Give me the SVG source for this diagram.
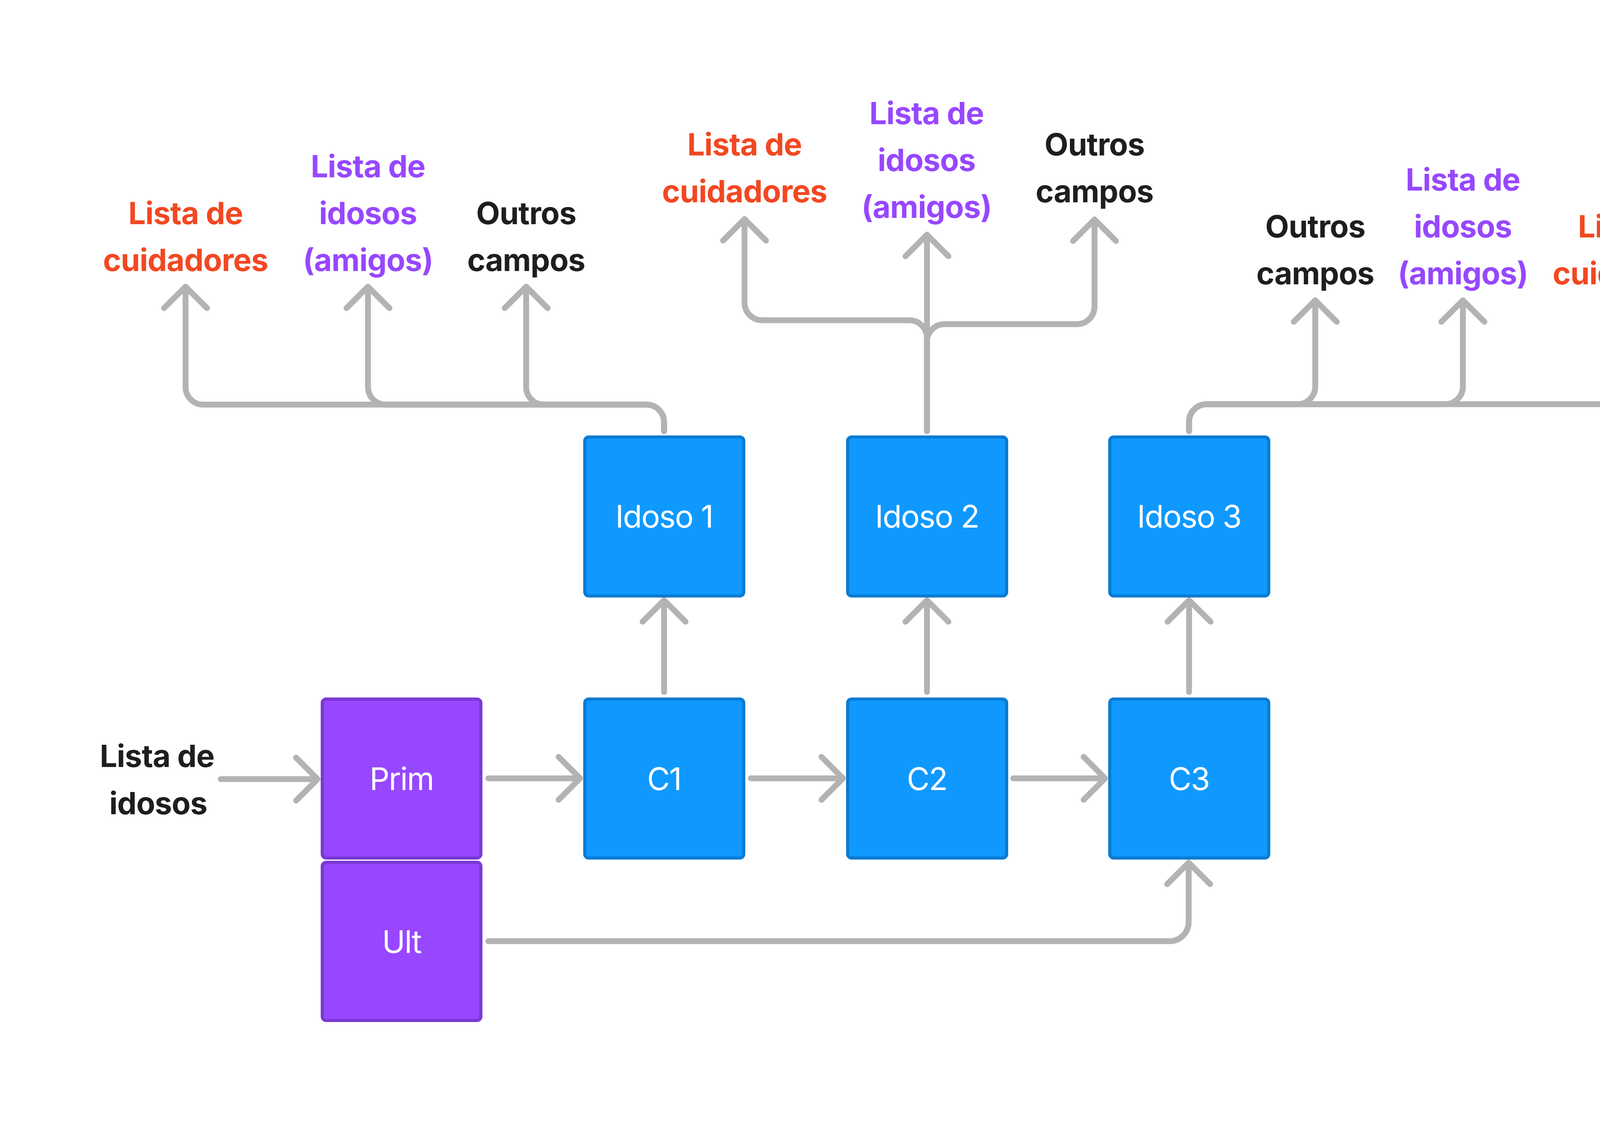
<svg xmlns="http://www.w3.org/2000/svg" width="4657" height="2873" viewBox="0 0 4657 2873">
<style>
.box-b{fill:#0F99FF;stroke:#0A7BD2;stroke-width:8}
.box-p{fill:#9747FF;stroke:#7B38D4;stroke-width:8}
.bt{font-family:Inter,"Liberation Sans",sans-serif;font-size:80px;letter-spacing:-2px;fill:#FFFFFF;text-anchor:middle}
.lb{font-family:Inter,"Liberation Sans",sans-serif;font-size:79px;letter-spacing:-1px;font-weight:700;text-anchor:middle}
.red{fill:#F24822}
.pur{fill:#9747FF}
.blk{fill:#1E1E1E}
.c{fill:none;stroke:#B3B3B3;stroke-width:15;stroke-linecap:round;stroke-linejoin:round}
</style>
<rect width="4657" height="2873" fill="#FFFFFF"/>
<g id="connectors" class="c">
<path d="M565 1995 H813 M758 1940 L813 1995 L758 2050"/>
<path d="M1250 1993 H1485 M1430 1938 L1485 1993 L1430 2048"/>
<path d="M1922 1993 H2158 M2103 1938 L2158 1993 L2103 2048"/>
<path d="M2594 1993 H2829 M2774 1938 L2829 1993 L2774 2048"/>
<path d="M1700 1772 V1537 M1645 1592 L1700 1537 L1755 1592"/>
<path d="M2373 1772 V1537 M2318 1592 L2373 1537 L2428 1592"/>
<path d="M3044 1772 V1537 M2989 1592 L3044 1537 L3099 1592"/>
<path d="M1250 2410 H2994 A49 49 0 0 0 3043 2361 V2209 M2988 2264 L3043 2209 L3098 2264"/>
<path d="M1700 1104 V1081 A45 45 0 0 0 1655 1036 H520 A45 45 0 0 1 475 991 V734 M420 789 L475 734 L530 789"/>
<path d="M1700 1104 V1081 A45 45 0 0 0 1655 1036 H987 A45 45 0 0 1 942 991 V734 M887 789 L942 734 L997 789"/>
<path d="M1700 1104 V1081 A45 45 0 0 0 1655 1036 H1392 A45 45 0 0 1 1347 991 V734 M1292 789 L1347 734 L1402 789"/>
<path d="M2373 1104 V601 M2318 656 L2373 601 L2428 656"/>
<path d="M2373 1104 V865 A45 45 0 0 0 2328 820 H1951 A45 45 0 0 1 1906 775 V561 M1851 616 L1906 561 L1961 616"/>
<path d="M2373 1104 V875 A45 45 0 0 1 2418 830 H2757 A45 45 0 0 0 2802 785 V562 M2747 617 L2802 562 L2857 617"/>
<path d="M3044 1104 V1080 A45 45 0 0 1 3089 1035 H3322 A45 45 0 0 0 3367 990 V769 M3312 824 L3367 769 L3422 824"/>
<path d="M3044 1104 V1080 A45 45 0 0 1 3089 1035 H3700 A45 45 0 0 0 3745 990 V769 M3690 824 L3745 769 L3800 824"/>
<path d="M3044 1104 V1080 A45 45 0 0 1 3089 1035 H4141 A45 45 0 0 0 4186 990 V769 M4131 824 L4186 769 L4241 824"/>
</g>
<g id="prim"><rect class="box-p" x="825" y="1790" width="406" height="407" rx="10"/><text class="bt" x="1028" y="2023">Prim</text></g>
<g id="ult"><rect class="box-p" x="825" y="2208" width="406" height="405" rx="10"/><text class="bt" x="1028" y="2440">Ult</text></g>
<g id="c1"><rect class="box-b" x="1497" y="1790" width="407" height="407" rx="10"/><text class="bt" x="1700" y="2023">C1</text></g>
<g id="c2"><rect class="box-b" x="2170" y="1790" width="407" height="407" rx="10"/><text class="bt" x="2373" y="2023">C2</text></g>
<g id="c3"><rect class="box-b" x="2841" y="1790" width="407" height="407" rx="10"/><text class="bt" x="3044" y="2023">C3</text></g>
<g id="idoso1"><rect class="box-b" x="1497" y="1119" width="407" height="407" rx="10"/><text class="bt" x="1700" y="1351">Idoso 1</text></g>
<g id="idoso2"><rect class="box-b" x="2170" y="1119" width="407" height="407" rx="10"/><text class="bt" x="2373" y="1351">Idoso 2</text></g>
<g id="idoso3"><rect class="box-b" x="2841" y="1119" width="407" height="407" rx="10"/><text class="bt" x="3044" y="1351">Idoso 3</text></g>
<g id="lista-idosos-input"><text class="lb blk" x="402" y="1964">Lista de</text><text class="lb blk" x="405" y="2085">idosos</text></g>
<g id="i1-cuidadores"><text class="lb red" x="475" y="574">Lista de</text><text class="lb red" x="475" y="694">cuidadores</text></g>
<g id="i1-amigos"><text class="lb pur" x="942" y="454">Lista de</text><text class="lb pur" x="942" y="574">idosos</text><text class="lb pur" x="942" y="694">(amigos)</text></g>
<g id="i1-outros"><text class="lb blk" x="1347" y="574">Outros</text><text class="lb blk" x="1347" y="694">campos</text></g>
<g id="i2-cuidadores"><text class="lb red" x="1906" y="398">Lista de</text><text class="lb red" x="1906" y="518">cuidadores</text></g>
<g id="i2-amigos"><text class="lb pur" x="2372" y="318">Lista de</text><text class="lb pur" x="2372" y="438">idosos</text><text class="lb pur" x="2372" y="558">(amigos)</text></g>
<g id="i2-outros"><text class="lb blk" x="2802" y="398">Outros</text><text class="lb blk" x="2802" y="518">campos</text></g>
<g id="i3-outros"><text class="lb blk" x="3367" y="608">Outros</text><text class="lb blk" x="3367" y="728">campos</text></g>
<g id="i3-amigos"><text class="lb pur" x="3745" y="488">Lista de</text><text class="lb pur" x="3745" y="608">idosos</text><text class="lb pur" x="3745" y="728">(amigos)</text></g>
<g id="i3-cuidadores"><text class="lb red" x="4186" y="608">Lista de</text><text class="lb red" x="4186" y="728">cuidadores</text></g>
</svg>
